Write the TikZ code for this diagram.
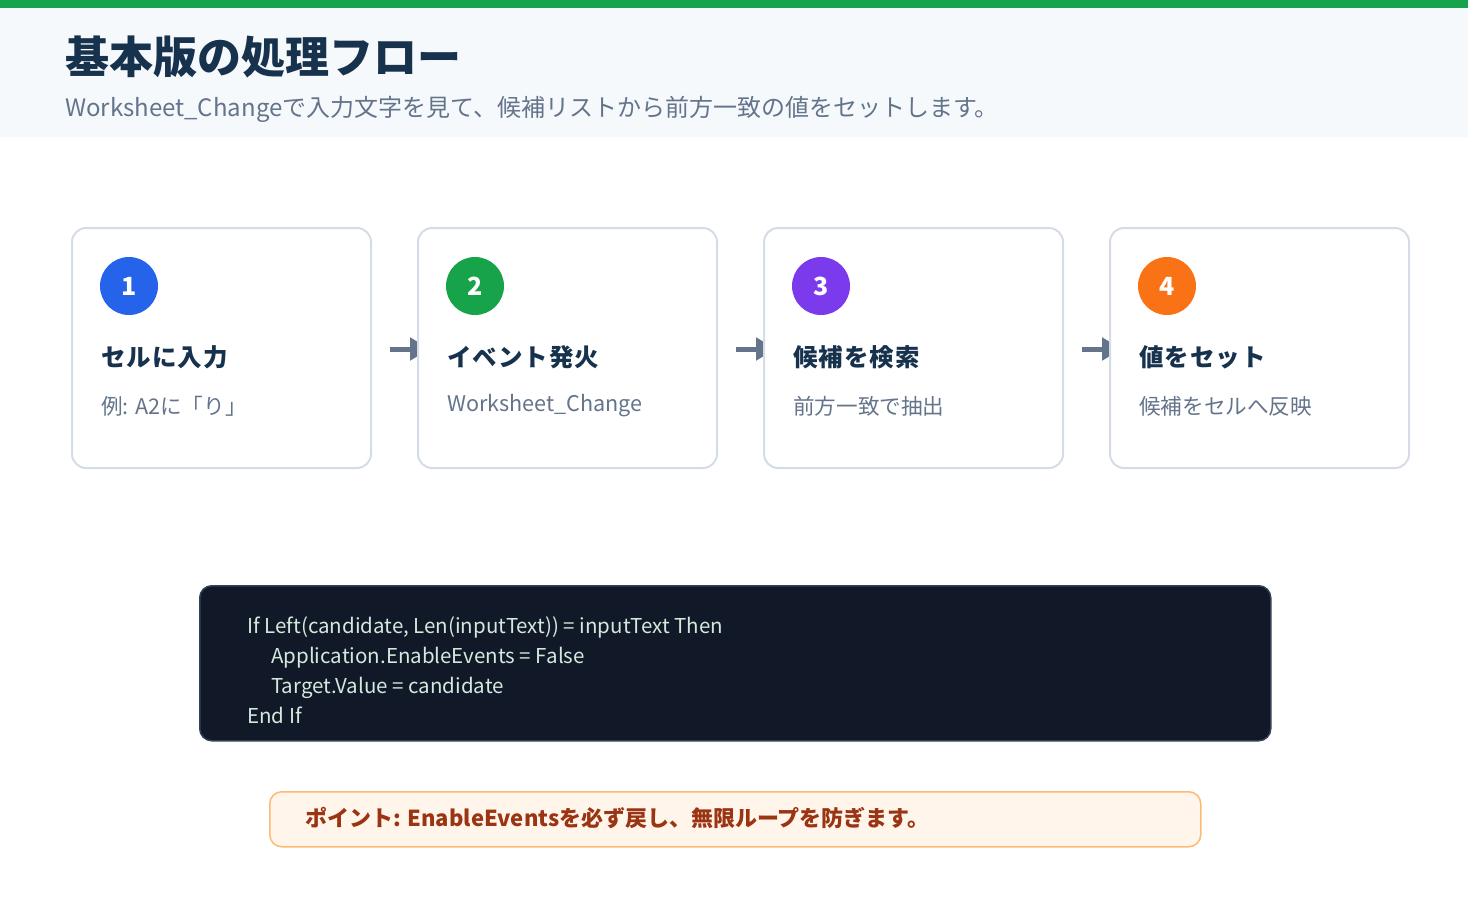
\documentclass[tikz,border=0pt]{standalone}
\usepackage{fontspec}
\setmainfont{Noto Sans CJK JP}
\newfontfamily\codefont{Noto Sans CJK JP}
\usetikzlibrary{positioning,arrows.meta,backgrounds}
\definecolor{headgreen}{HTML}{16A34A}
\definecolor{headbg}{HTML}{F5F9FC}
\definecolor{inkdark}{HTML}{17324D}
\definecolor{inkgray}{HTML}{64748B}
\definecolor{cardline}{HTML}{D5DCE8}
\definecolor{stepblue}{HTML}{2563EB}
\definecolor{stepgreen}{HTML}{16A34A}
\definecolor{steppurple}{HTML}{7C3AED}
\definecolor{steporange}{HTML}{F97316}
\definecolor{codebg}{HTML}{111827}
\definecolor{codeline}{HTML}{334155}
\definecolor{codeink}{HTML}{D3E9DE}
\definecolor{notebg}{HTML}{FFF5EB}
\definecolor{noteline}{HTML}{FDBA74}
\definecolor{noteink}{HTML}{9A3412}
\begin{document}
\begin{tikzpicture}[
  x=1pt,y=-1pt,
  card/.style={rectangle,rounded corners=14pt,draw=cardline,line width=2pt,fill=white,minimum width=299pt,minimum height=240pt,anchor=north west,inner sep=0pt},
  badge/.style={circle,minimum size=58pt,inner sep=0pt,text=white,font=\bfseries\fontsize{25}{25}\selectfont},
  steptitle/.style={anchor=west,inner sep=0pt,text=inkdark,font=\bfseries\fontsize{24.5}{24.5}\selectfont\addfontfeature{LetterSpace=4}},
  stepsub/.style={anchor=west,inner sep=0pt,text=inkgray,font=\fontsize{21.6}{21.6}\selectfont},
  codetxt/.style={anchor=base west,inner sep=0pt,text=codeink,font=\codefont\fontsize{20.5}{20.5}\selectfont},
  flowarr/.style={-{Triangle[length=20pt,width=22pt]},line width=5pt,inkgray},
]
\useasboundingbox (0,0) rectangle (1468,900);
% Header band
\fill[headbg] (0,8) rectangle (1468,137);
\fill[headgreen] (0,0) rectangle (1468,8);
\node[anchor=west,inner sep=0pt,text=inkdark,font=\bfseries\fontsize{44}{44}\selectfont] (title) at (65,57) {基本版の処理フロー};
\node[anchor=west,inner sep=0pt,text=inkgray,font=\fontsize{24}{24}\selectfont] (subtitle) at (65,109) {Worksheet\_Changeで入力文字を見て、候補リストから前方一致の値をセットします。};

% Step cards
\node[card] (c1) at (71,227) {};
\node[card] (c2) at (417,227) {};
\node[card] (c3) at (763,227) {};
\node[card] (c4) at (1109,227) {};

% Step 1
\node[badge,fill=stepblue] (n1) at (129,286) {1};
\node[steptitle] (t1) at (101,357) {セルに入力};
\node[stepsub] (s1) at (101,406) {例: A2に「り」};
% Step 2
\node[badge,fill=stepgreen] (n2) at (475,286) {2};
\node[steptitle] (t2) at (447,357) {イベント発火};
\node[stepsub] (s2) at (447,406) {Worksheet\_Change};
% Step 3
\node[badge,fill=steppurple] (n3) at (821,286) {3};
\node[steptitle] (t3) at (793,357) {候補を検索};
\node[stepsub] (s3) at (793,406) {前方一致で抽出};
% Step 4
\node[badge,fill=steporange] (n4) at (1167,286) {4};
\node[steptitle] (t4) at (1139,357) {値をセット};
\node[stepsub] (s4) at (1139,406) {候補をセルへ反映};

% Arrows between cards (tips tucked under the next card)
\begin{scope}[on background layer]
\draw[flowarr] ([xshift=18pt,yshift=-1pt]c1.east) -- ([xshift=13pt,yshift=-1pt]c2.west);
\draw[flowarr] ([xshift=18pt,yshift=-1pt]c2.east) -- ([xshift=13pt,yshift=-1pt]c3.west);
\draw[flowarr] ([xshift=18pt,yshift=-1pt]c3.east) -- ([xshift=13pt,yshift=-1pt]c4.west);
\end{scope}

% Code block
\node[rectangle,rounded corners=12pt,fill=codebg,draw=codeline,line width=1.5pt,minimum width=1071pt,minimum height=155pt,anchor=north west] (code) at (199,585) {};
\node[codetxt] (code1) at (247,633) {If Left(candidate, Len(inputText)) = inputText Then};
\node[codetxt] (code2) at (271,663) {Application.EnableEvents = False};
\node[codetxt] (code3) at (271,693) {Target.Value = candidate};
\node[codetxt] (code4) at (247,723) {End If};

% Note
\node[rectangle,rounded corners=12pt,fill=notebg,draw=noteline,line width=1.5pt,minimum width=931pt,minimum height=55pt,anchor=north west] (note) at (269,791) {};
\node[anchor=west,inner sep=0pt,text=noteink,font=\bfseries\fontsize{22}{22}\selectfont] (notetxt) at (305,818) {ポイント: EnableEventsを必ず戻し、無限ループを防ぎます。};
\end{tikzpicture}
\end{document}
